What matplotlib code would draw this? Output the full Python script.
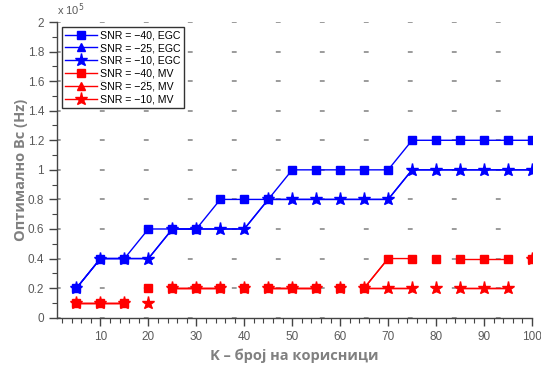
import numpy as np
import matplotlib
matplotlib.use('Agg')
import matplotlib.pyplot as plt
from matplotlib.ticker import MultipleLocator, FuncFormatter

# K - number of users
K = [5, 10, 15, 20, 25, 30, 35, 40, 45, 50, 55, 60, 65, 70, 75, 80, 85, 90, 95, 100]

# optimal Bc, in units of 1e5 Hz
egc_40 = [0.2, 0.4, 0.4, 0.6, 0.6, 0.6, 0.8, 0.8, 0.8, 1.0, 1.0, 1.0, 1.0, 1.0, 1.2, 1.2, 1.2, 1.2, 1.2, 1.2]
egc_25 = [0.2, 0.4, 0.4, 0.4, 0.6, 0.6, 0.6, 0.6, 0.8, 0.8, 0.8, 0.8, 0.8, 0.8, 1.0, 1.0, 1.0, 1.0, 1.0, 1.0]
egc_10 = [0.2, 0.4, 0.4, 0.4, 0.6, 0.6, 0.6, 0.6, 0.8, 0.8, 0.8, 0.8, 0.8, 0.8, 1.0, 1.0, 1.0, 1.0, 1.0, 1.0]
mv_40 = [0.1, 0.1, 0.1, 0.2, 0.2, 0.2, 0.2, 0.2, 0.2, 0.2, 0.2, 0.2, 0.2, 0.4, 0.4, 0.4, 0.4, 0.4, 0.4, 0.4]
mv_25 = [0.1, 0.1, 0.1, 0.1, 0.2, 0.2, 0.2, 0.2, 0.2, 0.2, 0.2, 0.2, 0.2, 0.2, 0.2, 0.2, 0.2, 0.2, 0.2, 0.4]
mv_10 = [0.1, 0.1, 0.1, 0.1, 0.2, 0.2, 0.2, 0.2, 0.2, 0.2, 0.2, 0.2, 0.2, 0.2, 0.2, 0.2, 0.2, 0.2, 0.2, 0.4]

labels = ['SNR = \u221240, EGC', 'SNR = \u221225, EGC', 'SNR = \u221210, EGC',
          'SNR = \u221240, MV', 'SNR = \u221225, MV', 'SNR = \u221210, MV']

# the red curves in the original only show line pieces over these index runs
mv_runs = [(0, 3), (4, 7), (8, 11), (12, 15), (16, 19)]

gray_txt = '#5a5a5a'
fig = plt.figure(figsize=(5.41, 3.68), dpi=100)
ax = fig.add_axes([0.1059, 0.1367, 0.8774, 0.8035])

series = [
    (egc_40, 'blue', 's', 5.8),
    (egc_25, 'blue', '^', 5.0),
    (egc_10, 'blue', '*', 9.5),
    (mv_40, 'red', 's', 5.8),
    (mv_25, 'red', '^', 5.0),
    (mv_10, 'red', '*', 9.5),
]

handles = []
for i, (vals, col, mk, ms) in enumerate(series):
    if col == 'blue':
        ax.plot(K, vals, '-', color=col, lw=1, zorder=3)
    else:
        for a, b in mv_runs:
            ax.plot(K[a:b], vals[a:b], '-', color=col, lw=1, zorder=3)
        # rising piece of the -40 MV curve
        if i == 3:
            ax.plot(K[12:14], vals[12:14], '-', color=col, lw=1, zorder=3)
    ax.plot(K, vals, linestyle='none', marker=mk, ms=ms, color=col, mec=col, zorder=4)
    h, = ax.plot([], [], '-', color=col, lw=1, marker=mk, ms=ms * (1.25 if mk == '^' else 1), mec=col)
    handles.append(h)

ax.set_xlim(1, 100)
ax.set_ylim(0, 2)
ax.xaxis.set_major_locator(MultipleLocator(10))
ax.xaxis.set_minor_locator(MultipleLocator(2))
ax.yaxis.set_major_locator(MultipleLocator(0.2))
ax.yaxis.set_minor_locator(MultipleLocator(0.1))
ax.yaxis.set_major_formatter(FuncFormatter(lambda v, p: '%g' % round(v, 2)))

for s in ['top', 'right']:
    ax.spines[s].set_visible(False)
for s in ['left', 'bottom']:
    ax.spines[s].set_color('#444444')
    ax.spines[s].set_linewidth(1)

ax.tick_params(which='major', direction='out', length=6, width=1, color='#444444',
               labelcolor=gray_txt, labelsize=8.5)
ax.tick_params(which='minor', direction='out', length=3.5, width=0.8, color='#444444')
for t in ax.get_xticklabels() + ax.get_yticklabels():
    t.set_family('Liberation Sans')

ax.yaxis.grid(True, which='major', color='#8a8a8a', lw=1.2, linestyle=(0.7, (2.9, 23.5)), zorder=0)
ax.set_axisbelow(True)

ax.text(0.0, 1.015, 'x 10$^5$', transform=ax.transAxes, fontsize=8, color=gray_txt,
        family='Liberation Sans', ha='left', va='bottom')

ax.set_xlabel('K \u2013 број на корисници', fontsize=10.5, fontweight='bold', color='#808080',
              family='Open Sans', labelpad=4)
ax.set_ylabel('Оптимално Bc (Hz)', fontsize=10.5, fontweight='bold', color='#808080',
              family='Open Sans', labelpad=0)

leg = ax.legend(handles, labels, loc='upper left', bbox_to_anchor=(0.01, 0.983),
                prop={'family': 'Liberation Sans', 'size': 7.6}, frameon=True, fancybox=False,
                edgecolor='black', handlelength=3.0, handletextpad=0.3, labelspacing=0.27,
                borderpad=0.3, borderaxespad=0)
leg.get_frame().set_linewidth(1)
leg.set_zorder(5)

fig.savefig('out.png', dpi=100)
